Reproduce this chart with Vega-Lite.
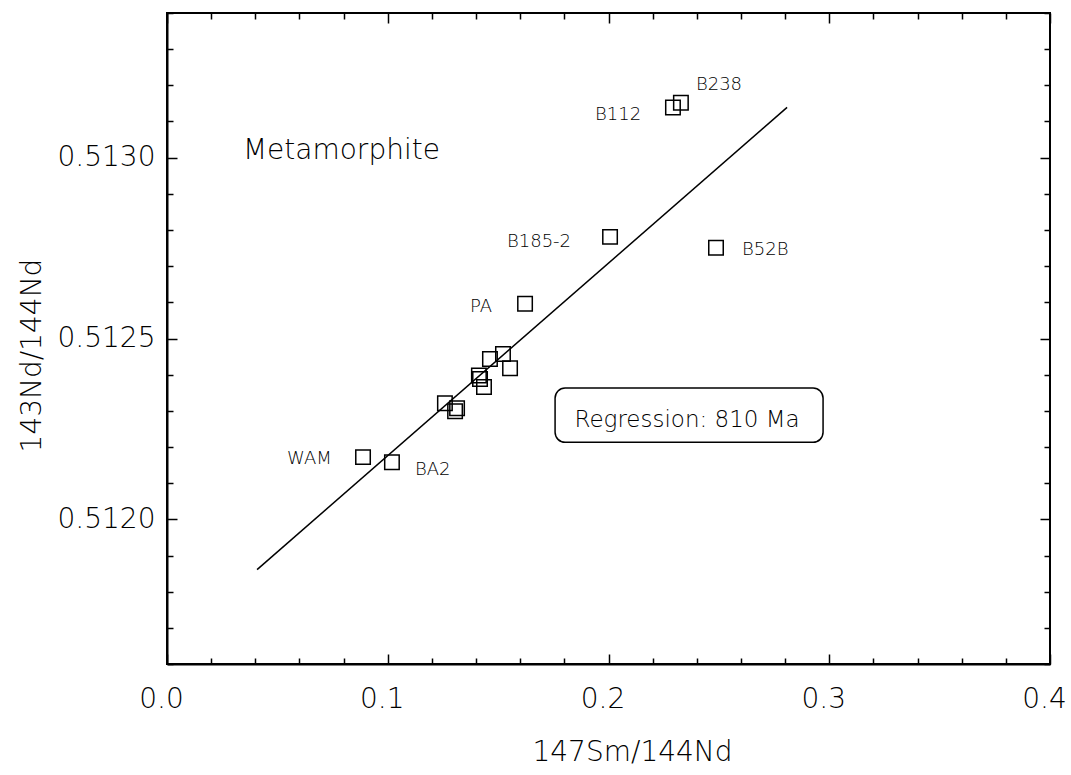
{
  "$schema": "https://vega.github.io/schema/vega-lite/v6.json",
  "width": 883,
  "height": 651,
  "autosize": {"type": "none"},
  "padding": {"left": 167, "top": 13, "right": 21, "bottom": 111},
  "background": "white",
  "config": {
    "view": {"stroke": "black", "strokeWidth": 2},
    "font": "DejaVu Sans",
    "text": {"font": "DejaVu Sans", "fontWeight": 200, "color": "black"},
    "axis": {
      "labelFont": "DejaVu Sans",
      "titleFont": "DejaVu Sans",
      "labelFontWeight": 200,
      "titleFontWeight": 200,
      "labelColor": "black",
      "titleColor": "black",
      "tickColor": "black",
      "domainColor": "black",
      "grid": false
    }
  },
  "datasets": {
    "points": [
      {"sample": "B238", "x": 0.2328, "y": 0.513152},
      {"sample": "B112", "x": 0.2292, "y": 0.513139},
      {"sample": "B185-2", "x": 0.2007, "y": 0.512781},
      {"sample": "B52B", "x": 0.2487, "y": 0.512751},
      {"sample": "PA", "x": 0.1622, "y": 0.512596},
      {"sample": "c1", "x": 0.1463, "y": 0.512443},
      {"sample": "c2", "x": 0.1522, "y": 0.512457},
      {"sample": "c3", "x": 0.1554, "y": 0.512418},
      {"sample": "c4", "x": 0.1413, "y": 0.512398},
      {"sample": "c5", "x": 0.1418, "y": 0.512388},
      {"sample": "c6", "x": 0.1436, "y": 0.512366},
      {"sample": "c7", "x": 0.1259, "y": 0.512321},
      {"sample": "c8", "x": 0.1314, "y": 0.512307},
      {"sample": "c9", "x": 0.1305, "y": 0.512299},
      {"sample": "WAM", "x": 0.0888, "y": 0.512172},
      {"sample": "BA2", "x": 0.1019, "y": 0.512158}
    ],
    "labels": [
      {"label": "B238", "x": 0.2396, "y": 0.513186},
      {"label": "B112", "x": 0.1939, "y": 0.513105},
      {"label": "B185-2", "x": 0.1540, "y": 0.512753},
      {"label": "B52B", "x": 0.2605, "y": 0.512731},
      {"label": "PA", "x": 0.1373, "y": 0.512573},
      {"label": "BA2", "x": 0.1123, "y": 0.512122},
      {"label": "WAM", "x": 0.0544, "y": 0.512152}
    ],
    "line": [
      {"x": 0.0408, "y": 0.511861},
      {"x": 0.2809, "y": 0.513139}
    ],
    "box": [
      {"x": 0.1758, "x2": 0.2972, "y": 0.512363, "y2": 0.512213}
    ],
    "notes": [
      {"label": "Regression: 810 Ma", "x": 0.2356, "y": 0.512255}
    ],
    "title": [
      {"label": "Metamorphite", "x": 0.0344, "y": 0.512997}
    ]
  },
  "layer": [
    {
      "data": {"name": "box"},
      "mark": {"type": "rect", "fill": "white", "stroke": "black", "strokeWidth": 1.5, "cornerRadius": 10},
      "encoding": {
        "x": {
          "field": "x", "type": "quantitative",
          "scale": {"domain": [0, 0.4], "nice": false, "zero": false},
          "axis": {
            "orient": "bottom",
            "values": [0, 0.02, 0.04, 0.06, 0.08, 0.1, 0.12, 0.14, 0.16, 0.18, 0.2, 0.22, 0.24, 0.26, 0.28, 0.3, 0.32, 0.34, 0.36, 0.38, 0.4],
            "labelExpr": "abs(datum.value*10 - round(datum.value*10)) < 0.001 ? format(datum.value, '.1f') : ''",
            "tickSize": {"condition": {"test": "abs(datum.value*10 - round(datum.value*10)) < 0.001", "value": -10}, "value": -6},
            "tickWidth": 1.5,
            "labelPadding": 31,
            "labelOffset": -6,
            "labelFontSize": 28,
            "labelFlush": false,
            "labelOverlap": false,
            "domainWidth": 2,
            "title": "147Sm/144Nd",
            "titleFontSize": 28,
            "titleX": 465,
            "titleY": 88,
            "titleBaseline": "middle",
            "titleAlign": "center"
          }
        },
        "x2": {"field": "x2"},
        "y": {
          "field": "y", "type": "quantitative",
          "scale": {"domain": [0.5116, 0.5134], "nice": false, "zero": false},
          "axis": {
            "orient": "left",
            "values": [0.5116, 0.5117, 0.5118, 0.5119, 0.512, 0.5121, 0.5122, 0.5123, 0.5124, 0.5125, 0.5126, 0.5127, 0.5128, 0.5129, 0.513, 0.5131, 0.5132, 0.5133, 0.5134],
            "labelExpr": "indexof(['0.5120','0.5125','0.5130'], format(datum.value, '.4f')) >= 0 ? format(datum.value, '.4f') : ''",
            "tickSize": {"condition": {"test": "indexof(['0.5120','0.5125','0.5130'], format(datum.value, '.4f')) >= 0", "value": -10}, "value": -6},
            "tickWidth": 1.5,
            "labelPadding": 22,
            "labelFontSize": 28,
            "labelFlush": false,
            "labelOverlap": false,
            "domainWidth": 2,
            "title": "143Nd/144Nd",
            "titleFontSize": 28,
            "titleAngle": -90,
            "titleX": -135,
            "titleY": 342,
            "titleBaseline": "middle",
            "titleAlign": "center"
          }
        },
        "y2": {"field": "y2"}
      }
    },
    {
      "data": {"name": "line"},
      "mark": {"type": "line", "color": "black", "strokeWidth": 1.5},
      "encoding": {
        "x": {"field": "x", "type": "quantitative", "scale": {"domain": [0, 0.4], "nice": false, "zero": false}, "axis": null},
        "y": {"field": "y", "type": "quantitative", "scale": {"domain": [0.5116, 0.5134], "nice": false, "zero": false}, "axis": null}
      }
    },
    {
      "data": {"name": "points"},
      "mark": {"type": "point", "shape": "square", "filled": false, "stroke": "black", "strokeWidth": 1.5, "size": 210, "opacity": 1},
      "encoding": {
        "x": {
          "field": "x", "type": "quantitative",
          "scale": {"domain": [0, 0.4], "nice": false, "zero": false},
          "axis": {
            "orient": "top",
            "values": [0, 0.02, 0.04, 0.06, 0.08, 0.1, 0.12, 0.14, 0.16, 0.18, 0.2, 0.22, 0.24, 0.26, 0.28, 0.3, 0.32, 0.34, 0.36, 0.38, 0.4],
            "labels": false,
            "domain": false,
            "title": null,
            "tickWidth": 1.5,
            "tickSize": {"condition": {"test": "abs(datum.value*10 - round(datum.value*10)) < 0.001", "value": -10}, "value": -6}
          }
        },
        "y": {
          "field": "y", "type": "quantitative",
          "scale": {"domain": [0.5116, 0.5134], "nice": false, "zero": false},
          "axis": {
            "orient": "right",
            "values": [0.5116, 0.5117, 0.5118, 0.5119, 0.512, 0.5121, 0.5122, 0.5123, 0.5124, 0.5125, 0.5126, 0.5127, 0.5128, 0.5129, 0.513, 0.5131, 0.5132, 0.5133, 0.5134],
            "labels": false,
            "domain": false,
            "title": null,
            "tickWidth": 1.5,
            "tickSize": {"condition": {"test": "indexof(['0.5120','0.5125','0.5130'], format(datum.value, '.4f')) >= 0", "value": -10}, "value": -6}
          }
        }
      }
    },
    {
      "data": {"name": "labels"},
      "mark": {"type": "text", "fontSize": 18, "align": "left", "baseline": "alphabetic"},
      "encoding": {
        "x": {"field": "x", "type": "quantitative", "scale": {"domain": [0, 0.4], "nice": false, "zero": false}, "axis": null},
        "y": {"field": "y", "type": "quantitative", "scale": {"domain": [0.5116, 0.5134], "nice": false, "zero": false}, "axis": null},
        "text": {"field": "label"}
      }
    },
    {
      "data": {"name": "notes"},
      "mark": {"type": "text", "fontSize": 23, "align": "center", "baseline": "alphabetic"},
      "encoding": {
        "x": {"field": "x", "type": "quantitative", "scale": {"domain": [0, 0.4], "nice": false, "zero": false}, "axis": null},
        "y": {"field": "y", "type": "quantitative", "scale": {"domain": [0.5116, 0.5134], "nice": false, "zero": false}, "axis": null},
        "text": {"field": "label"}
      }
    },
    {
      "data": {"name": "title"},
      "mark": {"type": "text", "fontSize": 28, "align": "left", "baseline": "alphabetic"},
      "encoding": {
        "x": {"field": "x", "type": "quantitative", "scale": {"domain": [0, 0.4], "nice": false, "zero": false}, "axis": null},
        "y": {"field": "y", "type": "quantitative", "scale": {"domain": [0.5116, 0.5134], "nice": false, "zero": false}, "axis": null},
        "text": {"field": "label"}
      }
    }
  ],
  "resolve": {"axis": {"x": "independent", "y": "independent"}}
}
